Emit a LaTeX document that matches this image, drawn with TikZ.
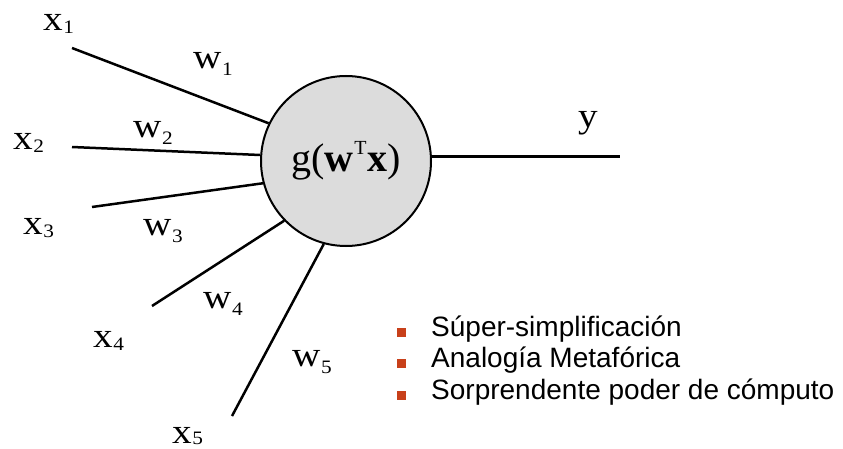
\documentclass[tikz,border=0pt]{standalone}
\usepackage{fontspec}
\setmainfont{Liberation Serif}
\setsansfont{Liberation Sans}
\definecolor{bulletred}{HTML}{C8401A}
\definecolor{cellgray}{HTML}{DCDCDC}
\newcommand\sbx[3]{\scalebox{1.12}[1]{#1\kern0.5pt\raisebox{-#3pt}{\fontsize{19}{19}\selectfont #2}}}
\begin{document}
\begin{tikzpicture}[x=1pt,y=-1pt,
  lab/.style={font=\fontsize{35}{38}\selectfont, inner sep=0pt, anchor=base west},
  wire/.style={line width=2.5pt},
  neuron/.style={circle, draw, line width=2pt, fill=cellgray, minimum size=170pt, inner sep=0pt, font=\fontsize{40}{44}\selectfont},
  item/.style={font=\sffamily\fontsize{28}{32}\selectfont, anchor=base west, inner sep=0pt},
  bul/.style={fill=bulletred, minimum size=9pt, inner sep=0pt}]
\useasboundingbox (0,0) rectangle (843,449);
\node[neuron] (n) at (346,161) {g(\textbf{w}\kern1pt\raisebox{17pt}{\fontsize{20}{20}\selectfont T}\kern1pt\textbf{x})};
\coordinate (i1) at (72,48);
\coordinate (i2) at (72,147);
\coordinate (i3) at (92,207);
\coordinate (i4) at (152,306);
\coordinate (i5) at (232,416);
\coordinate (o) at (620,157);
\draw[wire] (i1) -- (n.154.6);
\draw[wire] (i2) -- (n.176.6);
\draw[wire] (i3) -- (n.195.5);
\draw[wire] (i4) -- (n.224);
\draw[wire] (i5) -- (n.255.5);
\draw[wire] (n.3) -- (n.3 -| o);
\node[lab] (x1) at (43,31) {\sbx{x}{1}{3}};
\node[lab] (x2) at (13,150) {\sbx{x}{2}{3}};
\node[lab] (x3) at (23,234) {\sbx{x}{3}{3}};
\node[lab] (x4) at (93,347) {\sbx{x}{4}{3}};
\node[lab] (x5) at (172,443) {\sbx{x}{5}{1}};
\node[lab] (w1) at (193,69) {\sbx{w}{1}{7}};
\node[lab] (w2) at (133,138) {\sbx{w}{2}{7}};
\node[lab] (w3) at (143,235) {\sbx{w}{3}{7}};
\node[lab] (w4) at (203,308) {\sbx{w}{4}{7}};
\node[lab] (w5) at (292,366) {\sbx{w}{5}{7}};
\node[lab] (y) at (578,128) {\scalebox{1.12}[1]{y}};
\node[item] (t1) at (431,336) {Súper-simplificación};
\node[item] (t2) at (431,367.5) {Analogía Metafórica};
\node[item] (t3) at (431,399) {Sorprendente poder de cómputo};
\node[bul] (b1) at (401,332) {};
\node[bul] (b2) at (401,363.5) {};
\node[bul] (b3) at (401,395) {};
\end{tikzpicture}
\end{document}
